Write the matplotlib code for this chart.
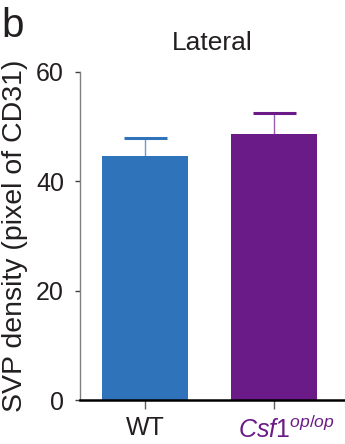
import numpy as np
import matplotlib.pyplot as plt

plt.rcParams['font.family'] = ['Liberation Sans', 'DejaVu Sans']
plt.rcParams['mathtext.fontset'] = 'custom'
plt.rcParams['mathtext.rm'] = 'Liberation Sans'
plt.rcParams['mathtext.it'] = 'Liberation Sans:italic'

# Datos: densidad SVP (pixel de CD31), región lateral
grupos = ['WT', r'$Csf1^{op/op}$']
medias = [44.6, 48.6]
errores = [3.4, 3.9]
colores = ['#2f74ba', '#6a1b87']
colores_texto = ['#231f20', '#6a1b87']

fig = plt.figure(figsize=(3.45, 4.44), dpi=100)
ax = fig.add_axes([0.232, 0.099, 0.768, 0.739])

x = np.arange(len(grupos))
ax.bar(x, medias, width=0.667, color=colores, edgecolor='none')
for xi, m, e, c in zip(x, medias, errores, colores):
    ax.plot([xi, xi], [m, m + e], color=c, lw=1, alpha=0.7)
    ax.plot([xi - 0.167, xi + 0.167], [m + e, m + e], color=c, lw=2.2, solid_capstyle='butt')

ax.set_xlim(-0.504, 1.55)
ax.set_ylim(0, 60)
ax.set_yticks([0, 20, 40, 60])
ax.set_xticks(x)
ax.set_xticklabels([grupos[0], ''])
ax.get_xticklabels()[0].set_color(colores_texto[0])
# etiqueta del mutante, algo desplazada a la derecha del tick
ax.annotate(grupos[1], xy=(x[1], 0), xycoords=ax.get_xaxis_transform(),
            xytext=(9, -11.5), textcoords='offset points', ha='center', va='top',
            fontsize=18, color=colores_texto[1])

ax.spines['top'].set_visible(False)
ax.spines['right'].set_visible(False)
ax.spines['left'].set_color('#808080')
ax.spines['left'].set_linewidth(1)
ax.spines['bottom'].set_color('black')
ax.spines['bottom'].set_linewidth(1.8)
ax.tick_params(axis='y', length=3.6, width=1, color='#404040', labelsize=18, labelcolor='#231f20', pad=8)
ax.tick_params(axis='x', length=6.5, width=1, color='#606060', labelsize=18, labelcolor='#231f20', pad=5)

ax.set_ylabel('SVP density (pixel of CD31)', fontsize=20.5, color='#231f20', labelpad=6)
ax.set_title('Lateral', fontsize=19, color='#231f20', pad=16)
fig.text(0.005, 0.985, 'b', fontsize=29, color='#231f20', va='top', ha='left')

fig.savefig('out.png', dpi=100)
